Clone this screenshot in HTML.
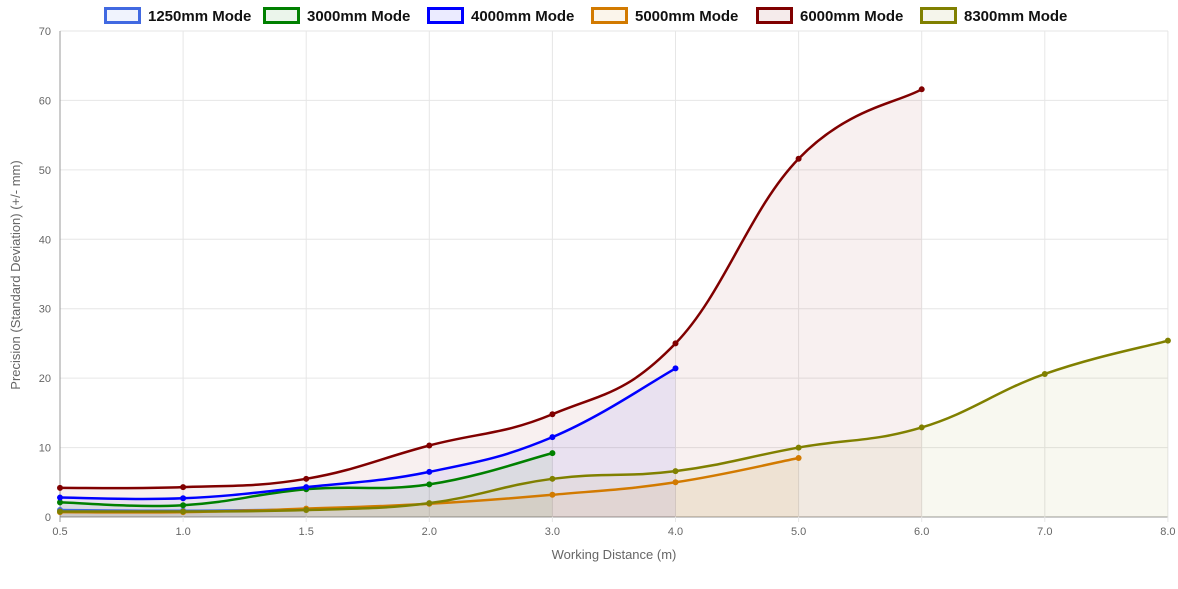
<!DOCTYPE html>
<html><head><meta charset="utf-8"><style>
body{margin:0;background:#fff;width:1178px;height:589px;overflow:hidden;font-family:"Liberation Sans",sans-serif}
svg{display:block}
</style></head><body>
<svg id="c" width="1178" height="589" xmlns="http://www.w3.org/2000/svg"></svg>
<script>
const svg=document.getElementById('c');
const X0=60,DX=123.1,Y0=517,PY=6.943;
const labels=['0.5','1.0','1.5','2.0','3.0','4.0','5.0','6.0','7.0','8.0'];
const sets=[
['1250mm Mode','#4169e1',[1.0,0.9,1.1]],
['3000mm Mode','#008000',[2.1,1.7,4.0,4.7,9.2]],
['4000mm Mode','#0000ff',[2.8,2.7,4.3,6.5,11.5,21.4]],
['5000mm Mode','#d27a00',[0.7,0.7,1.2,1.9,3.2,5.0,8.5]],
['6000mm Mode','#800000',[4.2,4.3,5.5,10.3,14.8,25.0,51.6,61.6]],
['8300mm Mode','#808000',[0.8,0.8,1.0,2.0,5.5,6.6,10.0,12.9,20.6,25.4]]];
let h='';
for(let i=0;i<=7;i++){const y=Y0-i*10*PY;h+=`<line x1="60" x2="1168" y1="${y}" y2="${y}" stroke="${i?'#e6e6e6':'#999'}"/>`;
h+=`<text x="51" y="${y+4}" font-size="11" fill="#666" text-anchor="end">${i*10}</text>`;}
labels.forEach((l,i)=>{const x=X0+i*DX;h+=`<line x1="${x}" x2="${x}" y1="31" y2="522" stroke="${i?'#e6e6e6':'#999'}"/>`;
h+=`<text x="${x}" y="535" font-size="11" fill="#666" text-anchor="middle">${l}</text>`;});
h+=`<text x="614" y="559" font-size="13" fill="#666" text-anchor="middle">Working Distance (m)</text>`;
h+=`<text transform="translate(20,275) rotate(-90)" font-size="13" fill="#666" text-anchor="middle">Precision (Standard Deviation) (+/- mm)</text>`;
function path(pts){let d=`M${pts[0][0]},${pts[0][1]}`;const t=0.4;
for(let i=0;i<pts.length-1;i++){const p0=pts[i-1]||pts[i],p1=pts[i],p2=pts[i+1],p3=pts[i+2]||p2;
const c1=[p1[0]+(p2[0]-p0[0])*t/2,p1[1]+(p2[1]-p0[1])*t/2],c2=[p2[0]-(p3[0]-p1[0])*t/2,p2[1]-(p3[1]-p1[1])*t/2];
d+=` C${c1[0]},${c1[1]} ${c2[0]},${c2[1]} ${p2[0]},${p2[1]}`;}return d;}
sets.forEach(s=>{const pts=s[2].map((v,i)=>[X0+i*DX,Y0-v*PY]);const d=path(pts);
h+=`<path d="${d} L${pts[pts.length-1][0]},${Y0} L${X0},${Y0} Z" fill="${s[1]}" fill-opacity="0.06" stroke="none"/>`;});
sets.forEach(s=>{const pts=s[2].map((v,i)=>[X0+i*DX,Y0-v*PY]);
h+=`<path d="${path(pts)}" fill="none" stroke="${s[1]}" stroke-width="2.5"/>`;
pts.forEach(p=>h+=`<circle cx="${p[0]}" cy="${p[1]}" r="3" fill="${s[1]}"/>`);});
const lx=[104,263,427,591,756,920];
sets.forEach((s,i)=>{h+=`<rect x="${lx[i]+1.5}" y="8.5" width="34" height="14" fill="${s[1]}" fill-opacity="0.08" stroke="${s[1]}" stroke-width="3"/>`;
h+=`<text x="${lx[i]+44}" y="21" font-size="15" font-weight="bold" fill="#111">${s[0]}</text>`;});
svg.innerHTML=h;
</script>
</body></html>
